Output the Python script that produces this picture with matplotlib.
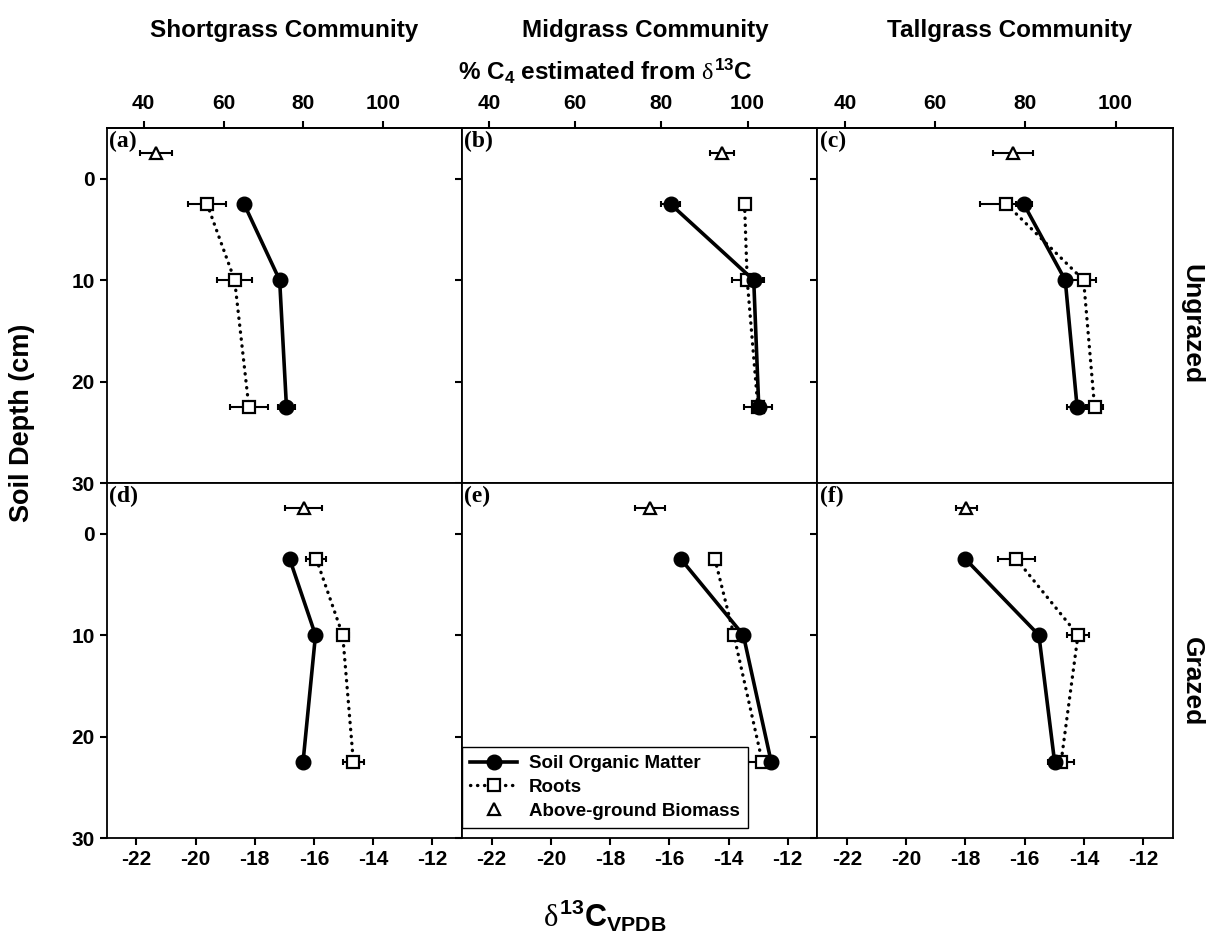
import matplotlib
matplotlib.use("Agg")
import matplotlib.pyplot as plt
from matplotlib.lines import Line2D

# depths (cm) of the soil samples and of the above-ground biomass point
depth = [2.5, 10, 22.5]
agb_depth = -2.5

communities = ["Shortgrass Community", "Midgrass Community", "Tallgrass Community"]
panel_labels = [["(a)", "(b)", "(c)"], ["(d)", "(e)", "(f)"]]
row_labels = ["Ungrazed", "Grazed"]

# d13C values, one list per community (short, mid, tall)
som_ungrazed = [[-18.36, -17.16, -16.93], [-15.96, -13.15, -12.98], [-16.03, -14.63, -14.23]]
som_ungrazed_se = [[0.10, 0.15, 0.28], [0.31, 0.34, 0.10], [0.25, 0.15, 0.35]]
roots_ungrazed = [[-19.61, -18.68, -18.20], [-13.46, -13.37, -13.01], [-16.62, -14.01, -13.64]]
roots_ungrazed_se = [[0.64, 0.58, 0.65], [0.12, 0.53, 0.48], [0.88, 0.43, 0.30]]
agb_ungrazed = [-21.34, -14.22, -16.39]
agb_ungrazed_se = [0.55, 0.39, 0.68]

som_grazed = [[-16.82, -15.95, -16.37], [-15.61, -13.50, -12.56], [-18.00, -15.52, -14.99]]
som_grazed_se = [[0.08, 0.12, 0.10], [0.08, 0.10, 0.20], [0.08, 0.10, 0.20]]
roots_grazed = [[-15.92, -15.03, -14.67], [-14.46, -13.82, -12.86], [-16.28, -14.20, -14.77]]
roots_grazed_se = [[0.34, 0.20, 0.36], [0.15, 0.10, 0.47], [0.62, 0.37, 0.45]]
agb_grazed = [-16.35, -16.65, -17.97]
agb_grazed_se = [0.63, 0.50, 0.36]

# top axis (% C4) calibration per community: d13C at 40 % and at 100 %
pct_d40 = [-21.75, -22.09, -22.07]
pct_d100 = [-13.66, -13.36, -12.93]
pct_ticks = [40, 60, 80, 100]
d13c_ticks = [-22, -20, -18, -16, -14, -12]
depth_ticks = [0, 10, 20, 30]

plt.rcParams['font.family'] = ['Liberation Sans', 'DejaVu Sans']
plt.rcParams['font.weight'] = 'bold'
plt.rcParams['axes.unicode_minus'] = False
plt.rcParams['mathtext.fontset'] = 'custom'
plt.rcParams['mathtext.rm'] = 'Liberation Sans:weight=bold'
plt.rcParams['mathtext.bf'] = 'Liberation Sans:weight=bold'
plt.rcParams['mathtext.it'] = 'Liberation Serif:weight=normal:slant=normal'
plt.rcParams['mathtext.default'] = 'bf'

fig, axes = plt.subplots(2, 3, figsize=(12.1, 9.47), dpi=100, sharex=True, sharey=True)
fig.subplots_adjust(left=0.0882, right=0.9692, top=0.8648, bottom=0.1151, wspace=0, hspace=0)

rows = [
  (som_ungrazed, som_ungrazed_se, roots_ungrazed, roots_ungrazed_se, agb_ungrazed, agb_ungrazed_se),
  (som_grazed, som_grazed_se, roots_grazed, roots_grazed_se, agb_grazed, agb_grazed_se),
]

for r in range(2):
  som, som_se, roots, roots_se, agb, agb_se = rows[r]
  for c in range(3):
    ax = axes[r, c]
    # error bars first, so markers sit on top
    ax.errorbar(som[c], depth, xerr=som_se[c], fmt='none', ecolor='black',
                elinewidth=1.5, capsize=2.5, capthick=1.5, zorder=2)
    ax.errorbar(roots[c], depth, xerr=roots_se[c], fmt='none', ecolor='black',
                elinewidth=1.5, capsize=2.5, capthick=1.5, zorder=2)
    ax.errorbar([agb[c]], [agb_depth], xerr=[agb_se[c]], fmt='none', ecolor='black',
                elinewidth=1.5, capsize=2.5, capthick=1.5, zorder=2)
    ax.plot(roots[c], depth, color='black', lw=2.4, linestyle=(0, (0.1, 2.0)),
            dash_capstyle='round', marker='s', markersize=8.5, markerfacecolor='white',
            markeredgecolor='black', markeredgewidth=1.6, zorder=3)
    ax.plot(som[c], depth, color='black', lw=2.6, marker='o', markersize=10.5,
            markerfacecolor='black', markeredgecolor='black', zorder=4)
    ax.plot([agb[c]], [agb_depth], linestyle='none', marker='^', markersize=9,
            markerfacecolor='white', markeredgecolor='black', markeredgewidth=1.6, zorder=4)

    ax.set_xlim(-23, -11)
    ax.set_ylim(30, -5)
    ax.set_xticks(d13c_ticks)
    ax.set_yticks(depth_ticks)
    for sp in ax.spines.values():
      sp.set_linewidth(1.3)
    ax.tick_params(axis='both', direction='out', length=5, width=1.5, labelsize=15)
    ax.tick_params(axis='y', right=False)
    if r == 0:
      ax.tick_params(axis='x', bottom=False)
    ax.text(0.006, 0.992, panel_labels[r][c], transform=ax.transAxes, ha='left', va='top',
            fontsize=17, fontweight='bold', family='Liberation Serif')

    if r == 0:
      a40, a100 = pct_d40[c], pct_d100[c]
      sec = ax.secondary_xaxis(
        'top',
        functions=(lambda d, a40=a40, a100=a100: 40 + (d - a40) / (a100 - a40) * 60,
                   lambda p, a40=a40, a100=a100: a40 + (p - 40) / 60 * (a100 - a40)))
      sec.set_xticks(pct_ticks)
      sec.tick_params(direction='out', length=5, width=1.5, labelsize=15, pad=6)
      sec.spines['top'].set_linewidth(1.3)

legend_handles = [
  Line2D([], [], color='black', lw=2.6, marker='o', markersize=10.5),
  Line2D([], [], color='black', lw=2.4, linestyle=(0, (0.1, 2.0)), dash_capstyle='round',
         marker='s', markersize=8.5, markerfacecolor='white', markeredgewidth=1.6),
  Line2D([], [], linestyle='none', marker='^', markersize=9, color='black',
         markerfacecolor='white', markeredgewidth=1.6),
]
leg = axes[1, 1].legend(legend_handles, ["Soil Organic Matter", "Roots", "Above-ground Biomass"],
                        loc='lower left', bbox_to_anchor=(0.0, 0.028), borderaxespad=0,
                        fancybox=False, edgecolor='black', framealpha=1,
                        prop={'size': 13.5, 'weight': 'bold'}, handlelength=2.5,
                        handletextpad=0.6, labelspacing=0.35, borderpad=0.45)
leg.get_frame().set_linewidth(1.0)

col_x = [0.235, 0.533, 0.834]
for c in range(3):
  fig.text(col_x[c], 0.968, communities[c], ha='center', va='center', fontsize=17.5, fontweight='bold')
fig.text(0.5, 0.925, r'% C$_4$ estimated from $\mathit{\delta}^{13}$C', ha='center', va='center',
         fontsize=17.5, fontweight='bold')
fig.text(0.5, 0.033, r'$\mathit{\delta}^{13}$C$_{VPDB}$', ha='center', va='center', fontsize=22,
         fontweight='bold')
fig.text(0.018, 0.554, "Soil Depth (cm)", rotation=90, ha='center', va='center',
         fontsize=19.5, fontweight='bold')
fig.text(0.985, 0.658, row_labels[0], rotation=-90, ha='center', va='center', fontsize=19, fontweight='bold')
fig.text(0.985, 0.28, row_labels[1], rotation=-90, ha='center', va='center', fontsize=19, fontweight='bold')

fig.savefig("out.png", dpi=100)
